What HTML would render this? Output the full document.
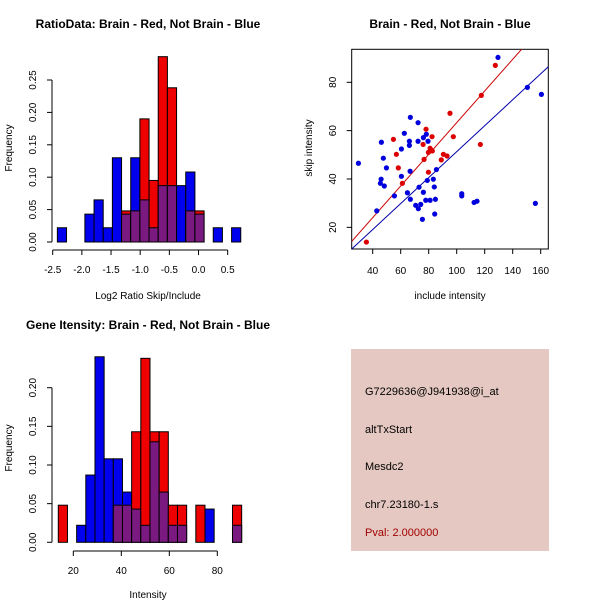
<!DOCTYPE html>
<html><head><meta charset="utf-8"><style>
body{margin:0;background:#fff;}
svg{display:block;font-family:"Liberation Sans",sans-serif;}
</style></head><body>
<svg id="s" width="600" height="600" xmlns="http://www.w3.org/2000/svg">
<text x="148" y="28" font-size="12" font-weight="bold" text-anchor="middle">RatioData: Brain - Red, Not Brain - Blue</text>
<text x="450" y="28" font-size="12" font-weight="bold" text-anchor="middle">Brain - Red, Not Brain - Blue</text>
<text x="148" y="329" font-size="12" font-weight="bold" text-anchor="middle">Gene Itensity: Brain - Red, Not Brain - Blue</text>
<text x="148" y="299" font-size="10" text-anchor="middle">Log2 Ratio Skip/Include</text>
<text x="148" y="598" font-size="10" text-anchor="middle">Intensity</text>
<text x="450" y="299" font-size="10" text-anchor="middle">include intensity</text>
<text transform="translate(12,148) rotate(-90)" font-size="10" text-anchor="middle">Frequency</text>
<text transform="translate(12,448) rotate(-90)" font-size="10" text-anchor="middle">Frequency</text>
<text transform="translate(312,148) rotate(-90)" font-size="10" text-anchor="middle">skip intensity</text>
<rect x="351" y="349" width="198" height="202" fill="#e5c8c1"/>
<text x="365" y="395" font-size="11">G7229636@J941938@i_at</text>
<text x="365" y="433" font-size="11">altTxStart</text>
<text x="365" y="470" font-size="11">Mesdc2</text>
<text x="365" y="508" font-size="11">chr7.23180-1.s</text>
<text x="365" y="536" font-size="11" fill="#a00000">Pval: 2.000000</text>
</svg>
<script>
// Ratio histogram data (20 bins from -2.42, width 0.1572)
const ratioBlue=[0.022,0,0,0.043,0.065,0.022,0.13,0.043,0.13,0.065,0.022,0.087,0.087,0.087,0.108,0.043,0,0.022,0,0.022];
const ratioRed=[0,0,0,0,0,0,0,0.048,0.048,0.19,0.095,0.286,0.238,0,0.048,0.048,0,0,0,0];
const ratioXTicks=[-2.5,-2.0,-1.5,-1.0,-0.5,0.0,0.5];
const ratioYTicks=[0,0.05,0.10,0.15,0.20,0.25];
// Intensity histogram data (20 bins from 13.75, width 3.82)
const intBlue=[0,0,0.022,0.087,0.24,0.108,0.108,0.065,0.043,0.022,0.13,0.065,0.022,0.022,0,0,0.043,0,0,0.022];
const intRed=[0.048,0,0,0,0,0,0.048,0.048,0.143,0.238,0.143,0.143,0.048,0.048,0,0.048,0,0,0,0.048];
const intXTicks=[20,40,60,80];
const intYTicks=[0,0.05,0.10,0.15,0.20];
// Scatter data
const blueX=[29.8,42.9,46.2,45.5,46.0,47.6,48.3,49.8,55.5,60.5,60.5,62.6,64.8,66.2,66.2,66.9,66.7,66.9,70.7,72.4,72.4,73.1,72.6,74.3,75.5,76.2,76.2,77.9,78.3,79.0,79.5,81.0,83.3,84.0,84.3,84.8,85.5,103.6,103.6,112.4,114.5,129.5,150.5,160.5,156.2];
const blueY=[46.5,26.8,55.2,38.2,39.9,48.6,37.1,44.6,33.0,52.4,41.1,58.9,34.3,55.6,53.9,65.5,43.2,31.6,29.1,63.3,55.6,36.6,27.7,29.5,23.3,34.5,57.1,31.2,58.5,39.4,55.6,31.2,39.9,36.7,25.5,31.6,43.9,33.9,33.0,30.3,30.8,90.3,77.9,75.0,29.9];
const redX=[35.5,54.8,56.9,58.3,61.2,76.0,76.7,78.1,79.8,79.8,81.0,81.7,82.4,82.6,89.0,90.5,93.1,95.2,97.6,116.9,117.6,127.6];
const redY=[13.9,56.4,50.2,44.6,38.2,54.3,48.1,60.6,42.8,51.0,52.7,52.0,57.5,51.6,47.9,50.2,49.5,67.2,57.5,54.3,74.6,87.0];
const redFit=[-2.2,0.655];
const blueFit=[-2.4,0.537];
const scXTicks=[40,60,80,100,120,140,160];
const scYTicks=[20,40,60,80];

const svg=document.getElementById('s');
const NS='http://www.w3.org/2000/svg';
function mk(tag,attrs,parent){const e=document.createElementNS(NS,tag);for(const k in attrs)e.setAttribute(k,attrs[k]);(parent||svg).appendChild(e);return e;}

function hist(prefix,blue,red,x0,bw,sx,sy,xTicks,yTicks,axisLeft,axisBottom,xlabFmt){
  const g=mk('g',{});
  
  
  for(let i=0;i<blue.length;i++){
    const l=sx(x0+i*bw),r=sx(x0+(i+1)*bw);
    const b=blue[i],rd=red[i];
    const mx=Math.max(b,rd),mn=Math.min(b,rd);
    if(mx>0){
      const e=mk('rect',{x:l,y:sy(mx),width:r-l,height:sy(0)-sy(mx),fill:b>=rd?'#0000ee':'#ee0000',stroke:'#000','stroke-width':1},g);
      
      
    }
    if(mn>0){
      const e=mk('rect',{x:l,y:sy(mn),width:r-l,height:sy(0)-sy(mn),fill:'#7a1a80',stroke:'#000','stroke-width':1},g);
      
      
    }
  }
  const ya=mk('g',{});
  
  
  mk('line',{x1:axisLeft,x2:axisLeft,y1:sy(yTicks[0]),y2:sy(yTicks[yTicks.length-1]),stroke:'#000'},ya);
  yTicks.forEach(t=>{const y=sy(t);mk('line',{x1:axisLeft-5,x2:axisLeft,y1:y,y2:y,stroke:'#000'},ya);
    const tx=mk('text',{transform:`translate(${axisLeft-16},${y}) rotate(-90)`,'font-size':10,'text-anchor':'middle'},ya);tx.textContent=t.toFixed(2);});
  const xa=mk('g',{});
  
  
  mk('line',{x1:sx(xTicks[0]),x2:sx(xTicks[xTicks.length-1]),y1:axisBottom,y2:axisBottom,stroke:'#000'},xa);
  xTicks.forEach(t=>{const x=sx(t);mk('line',{x1:x,x2:x,y1:axisBottom,y2:axisBottom+5,stroke:'#000'},xa);
    const tx=mk('text',{x:x,y:axisBottom+23,'font-size':10,'text-anchor':'middle'},xa);tx.textContent=xlabFmt(t);});
}
hist('ratio',ratioBlue,ratioRed,-2.42,0.1572,v=>52.7+(v+2.5)*58.33,v=>242-v*648,ratioXTicks,ratioYTicks,52,250,t=>t.toFixed(1));
hist('intensity',intBlue,intRed,13.75,3.82,v=>73.3+(v-20)*2.4,v=>542.3-v*773,intXTicks,intYTicks,52,551,t=>String(t));

const sx=v=>372.7+(v-40)*1.4, sy=v=>82.3-(v-80)*2.417;
const sg=mk('g',{});


const clip=mk('clipPath',{id:'sc'},sg);mk('rect',{x:351.7,y:49.3,width:196.6,height:199.7},clip);
const box=mk('rect',{x:351.7,y:49.3,width:196.6,height:199.7,fill:'none',stroke:'#000'},sg);


[[redFit,'#cc0000','red-fit-line'],[blueFit,'#0000aa','blue-fit-line']].forEach(([f,c,n])=>{
  const l=mk('line',{x1:sx(20),y1:sy(f[0]+f[1]*20),x2:sx(170),y2:sy(f[0]+f[1]*170),stroke:c,'clip-path':'url(#sc)'},sg);
  
  
});
blueX.forEach((x,i)=>{const c=mk('circle',{cx:sx(x),cy:sy(blueY[i]),r:2.6,fill:'#0000dd'},sg);
  
  });
redX.forEach((x,i)=>{const c=mk('circle',{cx:sx(x),cy:sy(redY[i]),r:2.6,fill:'#dd0000'},sg);
  
  });
const sxa=mk('g',{});


scXTicks.forEach(t=>{const x=sx(t);mk('line',{x1:x,x2:x,y1:249,y2:254,stroke:'#000'},sxa);
  const tx=mk('text',{x:x,y:274,'font-size':10,'text-anchor':'middle'},sxa);tx.textContent=t;});
const sya=mk('g',{});


scYTicks.forEach(t=>{const y=sy(t);mk('line',{x1:346.7,x2:351.7,y1:y,y2:y,stroke:'#000'},sya);
  const tx=mk('text',{transform:`translate(${336},${y}) rotate(-90)`,'font-size':10,'text-anchor':'middle'},sya);tx.textContent=t;});
</script>
</body></html>
